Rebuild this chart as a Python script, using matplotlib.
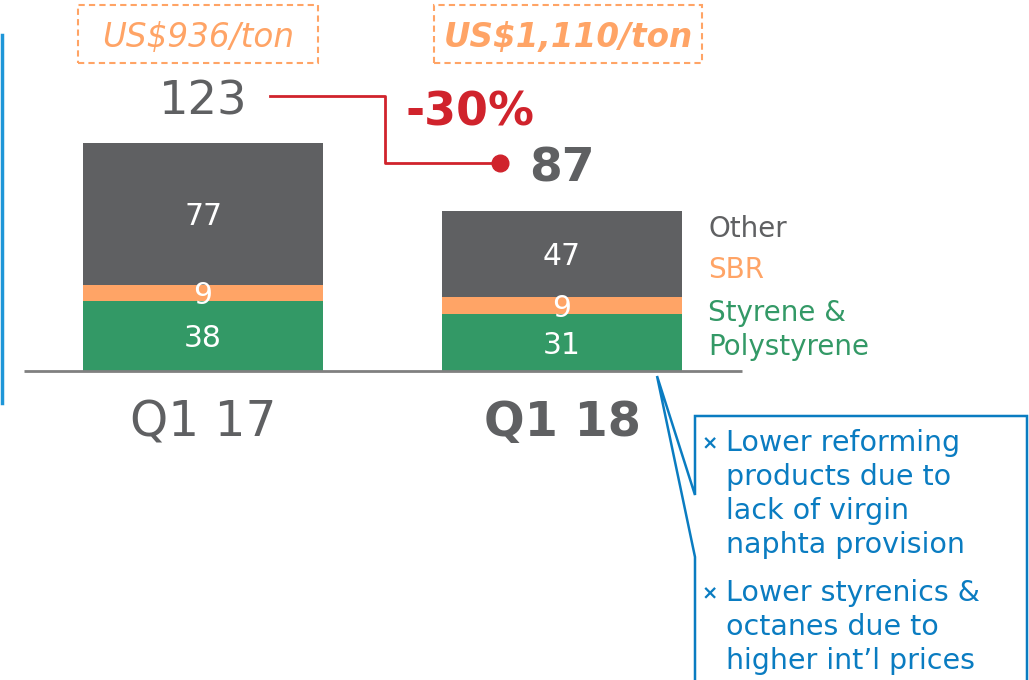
import matplotlib
matplotlib.use("Agg")
import matplotlib.pyplot as plt
from matplotlib.patches import Rectangle, Polygon
from matplotlib.lines import Line2D

# data
periods = ["Q1 17", "Q1 18"]
styrene = [38, 31]
sbr = [9, 9]
other = [77, 47]
totals_label = ["123", "87"]
prices = ["US$936/ton", "US$1,110/ton"]
change_label = "-30%"
segment_names = ["Styrene &\nPolystyrene", "SBR", "Other"]
bullets = [
    "Lower reforming\nproducts due to\nlack of virgin\nnaphta provision",
    "Lower styrenics &\noctanes due to\nhigher int\u2019l prices",
]

GREEN = "#339966"
ORANGE = "#FFA466"
DARK = "#5F6062"
RED = "#D0232C"
BLUE = "#0A7CC1"
LIGHT_BLUE = "#1E96D8"

W, H = 1029, 680
fig = plt.figure(figsize=(W / 100, H / 100), dpi=100)
ax = fig.add_axes([0, 0, 1, 1])
ax.set_xlim(-0.5655, 2.3008)
ax.set_ylim(-167.9, 201.6)
ax.axis("off")


def px(x, y):
    # pixel position -> figure fraction
    return x / W, 1 - y / H


xs = [0, 1]
bw = 0.6685
ax.bar(xs, styrene, width=bw, color=GREEN, zorder=2)
ax.bar(xs, sbr, width=bw, bottom=styrene, color=ORANGE, zorder=2)
bottoms = [s + b for s, b in zip(styrene, sbr)]
ax.bar(xs, other, width=bw, bottom=bottoms, color=DARK, zorder=2)

lab_kw = dict(ha="center", va="center", color="white", fontsize=21.5, zorder=3)
for x, s, b, o in zip(xs, styrene, sbr, other):
    ax.text(x, s / 2 - 1.5, str(s), **lab_kw)
    ax.text(x, s + b / 2 - 1.5, str(b), **lab_kw)
    ax.text(x, s + b + o / 2 - 1.5, str(o), **lab_kw)

totals = [s + b + o for s, b, o in zip(styrene, sbr, other)]
ax.text(xs[0], totals[0] + 22, totals_label[0], ha="center", va="center",
        color=DARK, fontsize=33.5)
ax.text(xs[1], totals[1] + 23, totals_label[1], ha="center", va="center",
        color=DARK, fontsize=34, fontweight="bold")

# baseline
ax.plot([-0.5, 1.5], [0, 0], color="#808080", lw=2, zorder=4, solid_capstyle="butt")

# category labels
ax.text(xs[0], -28, periods[0], ha="center", va="center", color=DARK, fontsize=35)
ax.text(xs[1], -28, periods[1], ha="center", va="center", color=DARK, fontsize=34.5,
        fontweight="bold")

# price boxes
for (x0, x1), label, weight in zip([(78, 318), (434, 702)], prices, ["normal", "bold"]):
    fx0, fy0 = px(x0, 63)
    fx1, fy1 = px(x1, 5)
    fig.patches.append(Rectangle((fx0, fy0), fx1 - fx0, fy1 - fy0, transform=fig.transFigure,
                                 fill=False, ec=ORANGE, lw=1.5, ls=(0, (3, 2))))
    tx, ty = px((x0 + x1) / 2, 37)
    fig.text(tx, ty, label, ha="center", va="center", color=ORANGE, fontsize=23.5,
             style="italic", fontweight=weight)

# red change connector
path = [px(270, 96), px(385, 96), px(385, 163), px(500, 163)]
fig.lines.append(Line2D([p[0] for p in path], [p[1] for p in path], transform=fig.transFigure,
                        color=RED, lw=2))
fig.lines.append(Line2D([path[-1][0]], [path[-1][1]], transform=fig.transFigure, marker="o",
                        ms=12, color=RED, mec=RED))
cx, cy = px(470, 113)
fig.text(cx, cy, change_label, ha="center", va="center", color=RED, fontsize=33,
         fontweight="bold")

# segment names
for name, color, y in zip(segment_names, [GREEN, ORANGE, DARK], [330, 270, 229]):
    lx, ly = px(708, y)
    fig.text(lx, ly, name, ha="left", va="center", color=color, fontsize=20, linespacing=1.3)

# left blue rule
lb = [px(1.5, 35), px(1.5, 403)]
fig.lines.append(Line2D([lb[0][0], lb[1][0]], [lb[0][1], lb[1][1]], transform=fig.transFigure,
                        color=LIGHT_BLUE, lw=2.5))

# callout box
outline = [px(695, 495), px(695, 416), px(1027, 416), px(1027, 700), px(695, 700),
           px(695, 557), px(657, 376)]
fig.patches.append(Polygon(outline, closed=True, transform=fig.transFigure, fill=True,
                           fc="white", ec=BLUE, lw=1.8))
for text, y in zip(bullets, [444, 594]):
    mx, my = px(710, y)
    fig.text(mx, my, "\u00d7", ha="center", va="center", color=BLUE, fontsize=14,
             fontweight="bold")
    tx, ty = px(726, y - 15)
    fig.text(tx, ty, text, ha="left", va="top", color=BLUE, fontsize=20.5, linespacing=1.27)

fig.savefig("out.png", dpi=100)
